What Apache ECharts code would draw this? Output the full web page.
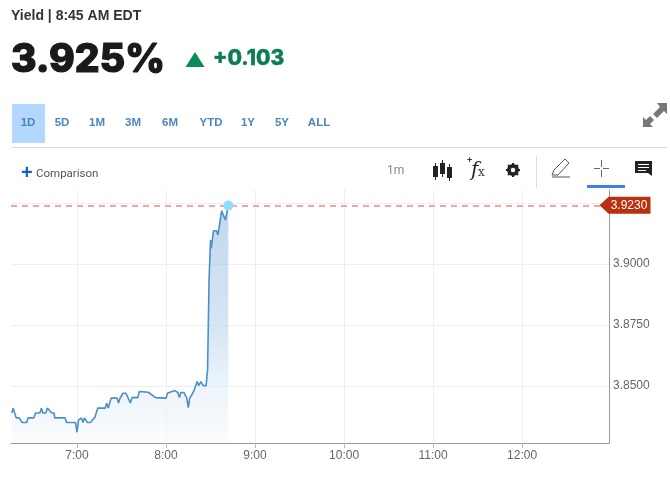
<!DOCTYPE html>
<html><head><meta charset="utf-8">
<style>html,body{margin:0;padding:0;background:#fff}#c{width:670px;height:481px}</style>
<script src="https://cdn.jsdelivr.net/npm/echarts@6/dist/echarts.min.js"></script>
</head><body><div id="c"></div>
<script>
// minutes after midnight (EDT)
var times=[376,377,379,381,383,386,387,391,392,395,396,397,399,400,401,403,404.5,405,412,413,419,420,421,423,424,425,427,429,432,434,439,440,441,443,447,448,449,451,453,456,457,461,462,468,469,473,480,481,484,485,486,488,489,490,492,494,495,496,498,499,501,502,503.5,505,507,508,509,510,510.5,512,514,515,517.5,518.5,520,522];
var yields=[3.8389,3.8409,3.8369,3.8369,3.8350,3.8350,3.8369,3.8369,3.8389,3.8389,3.8409,3.8389,3.8389,3.8409,3.8409,3.8389,3.8389,3.8369,3.8369,3.8350,3.8350,3.8310,3.8360,3.8369,3.8350,3.8369,3.8350,3.8350,3.8371,3.8409,3.8409,3.8429,3.8409,3.8450,3.8450,3.8430,3.8450,3.8470,3.8470,3.8430,3.8452,3.8452,3.8477,3.8474,3.8480,3.8452,3.8450,3.8470,3.8477,3.8470,3.8481,3.8473,3.8452,3.8473,3.8473,3.8450,3.8411,3.8450,3.8470,3.8484,3.8518,3.8501,3.8518,3.8501,3.8501,3.8566,3.8934,3.9098,3.9064,3.9136,3.9136,3.9119,3.9218,3.9221,3.9180,3.9239];
var hourTicks=[420,480,540,600,660,720];
var yieldTicks=[3.85,3.875,3.9,3.925];
var lastValue=3.924;
var lastLabel='3.9230';
var headline='Yield | 8:45 AM EDT', price='3.925%', change='+0.103';
var ranges=[['1D',28],['5D',62],['1M',97],['3M',133],['6M',170],['YTD',211],['1Y',248],['5Y',282],['ALL',319]];

var seriesData=times.map(function(t,i){return [t,yields[i]];});
var sans='"Liberation Sans",Arial,sans-serif';
function T(x,y,text,size,color,weight,family,align,style,stroke){
  var s={text:text,fontSize:size,fill:color,fontWeight:weight||'normal',fontFamily:family||sans,fontStyle:style||'normal',align:align||'left',verticalAlign:'middle'};
  if(stroke){s.stroke=color;s.lineWidth=stroke;}
  return {type:'text',x:x,y:y,silent:true,style:s};
}
function R(x,y,w,h,fill){return {type:'rect',silent:true,shape:{x:x,y:y,width:w,height:h},style:{fill:fill}};}
function PG(pts,fill){return {type:'polygon',silent:true,shape:{points:pts},style:{fill:fill}};}
function PL(pts,stroke,lw){return {type:'polyline',silent:true,shape:{points:pts},style:{fill:'none',stroke:stroke,lineWidth:lw||1}};}

var g=[
 T(11,16,headline,14,'#333','bold'),
 T(11,60,price,39,'#1a1a1a','800','Inter',null,null,1.2),
 PG([[195,52],[204.5,67],[185.5,67]],'#0b8a55'),
 T(213,59,change,21,'#0c7d50','800','Inter',null,null,0.4),
 R(12,104,33,39,'#b3d7ff'),
 R(12,147,655,1,'#dcdcdc'),
 T(21,173,'+',20,'#1a5fc8','bold',sans),
 T(36,174,'Comparison',11.5,'#555','normal','Roboto'),
 T(387,171,'1m',12,'#888','normal','Roboto'),
 // candles
 R(433,166,5,11,'#222'),R(435,163,1,17,'#222'),
 R(440,163,5,11,'#222'),R(442,160,1,17,'#222'),
 R(447,167,5,11,'#222'),R(449,164,1,17,'#222'),
 // fx
 T(467,161,'+',9,'#333','bold'),
 T(471,171,'f',20,'#222','normal','DejaVu Serif',null,'italic'),
 T(478,173,'x',12,'#444','normal','DejaVu Serif'),
 // gear
 {type:'circle',silent:true,shape:{cx:513,cy:170,r:4.5},style:{fill:'none',stroke:'#222',lineWidth:3}},
 R(512,163,2,14,'#222'),R(506,169,14,2,'#222'),
 PL([[508,165],[518,175]],'#222',2),PL([[518,165],[508,175]],'#222',2),
 {type:'circle',silent:true,shape:{cx:513,cy:170,r:2.2},style:{fill:'#fff'}},
 R(536,156,1,32,'#dcdcdc'),
 // pencil
 PL([[552,175],[554,170],[565,159],[569,163],[558,175],[552,175]],'#555',1),
 PL([[552,177],[570,177]],'#555',1),
 // crosshair
 R(601,160,1,7,'#666'),R(601,170,1,7,'#666'),R(594,168,6,1,'#666'),R(603,168,6,1,'#666'),
 R(587,185,38,3,'#3b82e8'),
 // comment
 PG([[635,161],[652,161],[652,176],[648,173],[635,173]],'#222'),
 R(638,164,11,1,'#fff'),R(638,167,11,1,'#fff'),R(638,170,8,1,'#fff'),
 // expand: two arrows
 PG([[657,103],[667,103],[667,114],[664,111],[657,118],[653,114],[660,107]],'#777'),
 PG([[643,117],[646,120],[650,116],[654,120],[650,124],[653,127],[643,127]],'#777')
];
ranges.forEach(function(r){g.push(T(r[1],123,r[0],11.5,'#4a87bd','bold',sans,'center'));});

var chart=echarts.init(document.getElementById('c'),null,{renderer:'canvas'});
chart.setOption({
 animation:false,
 graphic:g,
 grid:{left:11,right:61,top:190,bottom:38},
 xAxis:{type:'value',min:375.5,max:778.6,
   axisLine:{show:true,onZero:false,lineStyle:{color:'#999'}},
   axisTick:{show:true,length:5,customValues:hourTicks,lineStyle:{color:'#bbb'}},
   axisLabel:{customValues:hourTicks,color:'#666',fontSize:12,fontFamily:sans,margin:7,
     formatter:function(v){return Math.floor(v/60)+':'+('0'+(v%60)).slice(-2);}},
   splitLine:{show:true,lineStyle:{color:'#eeeeee'}}},
 yAxis:{type:'value',position:'right',min:3.8266,max:3.9303,
   axisLine:{show:true,onZero:false,lineStyle:{color:'#999'}},
   axisTick:{show:false,customValues:yieldTicks},
   axisLabel:{customValues:yieldTicks,color:'#666',fontSize:12,fontFamily:sans,margin:4,
     formatter:function(v){return v.toFixed(4);}},
   splitLine:{show:true,lineStyle:{color:'#eeeeee'}}},
 series:[{type:'line',data:seriesData,showSymbol:false,smooth:false,
   lineStyle:{color:'#4a90c8',width:1.6},
   areaStyle:{origin:'start',color:new echarts.graphic.LinearGradient(0,0,0,1,[{offset:0,color:'#a6c6e6'},{offset:0.52,color:'#c5daee'},{offset:0.76,color:'#e4eef7'},{offset:1,color:'#f8fafd'}])},
   markLine:{silent:true,symbol:'none',precision:4,label:{show:false},
     lineStyle:{color:'#ea8f7e',type:[6,5],width:1.6,opacity:1},
     data:[{yAxis:lastValue}]},
   markPoint:{silent:true,data:[
     {coord:[778.6,lastValue],symbol:'path://M0 8 L9 0 H50 V16 H9 Z',symbolSize:[51,17],symbolKeepAspect:false,symbolOffset:[16,0],
      itemStyle:{color:'#b9300f'},
      label:{show:true,formatter:lastLabel,color:'#fff',fontSize:12,fontFamily:sans,position:'inside',offset:[4,0]}},
     {coord:[times[times.length-1],yields[yields.length-1]],symbol:'circle',symbolSize:10,itemStyle:{color:'#90dcff'},label:{show:false}}
   ]}
 }]
});
</script></body></html>
